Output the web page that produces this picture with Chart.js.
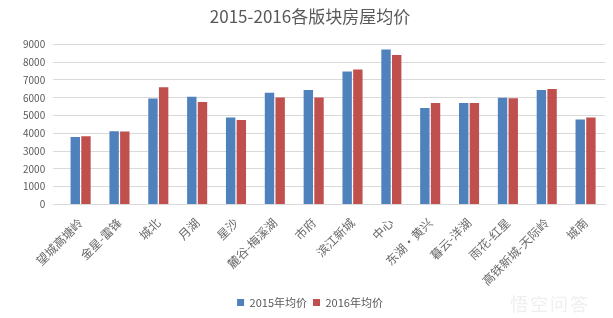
<!DOCTYPE html>
<html><head><meta charset="utf-8">
<script src="https://cdn.jsdelivr.net/npm/chart.js@4.4.0/dist/chart.umd.min.js"></script>
<style>
html,body{margin:0;padding:0;background:#fff;}
#wrap{position:relative;width:613px;height:318px;}
#wm{position:absolute;left:510px;top:290px;font:18px "Noto Sans CJK SC";color:#efefef;letter-spacing:2px;}
</style></head>
<body><div id="wrap"><canvas id="c" width="613" height="318"></canvas><div id="wm">悟空问答</div></div>
<script>
const categories = ["望城高塘岭","金星-雷锋","城北","月湖","星沙","麓谷-梅溪湖","市府","滨江新城","中心","东湖·黄兴","暮云-洋湖","雨花-红星","高铁新城-天际岭","城南"];
const price2015 = [3790,4110,5960,6060,4890,6280,6440,7480,8710,5430,5700,6000,6440,4780];
const price2016 = [3840,4100,6590,5760,4750,6020,6020,7590,8410,5700,5700,5970,6490,4890];
const yTicks = [0,1000,2000,3000,4000,5000,6000,7000,8000,9000];

new Chart(document.getElementById('c'), {
  type: 'bar',
  data: {
    labels: categories,
    datasets: [
      {label: '2015年均价', data: price2015, backgroundColor: '#4F81BD'},
      {label: '2016年均价', data: price2016, backgroundColor: '#C0504D'}
    ]
  },
  options: {
    responsive: false,
    animation: false,
    layout: {padding: {left: 15, right: 8, top: 0, bottom: 0}},
    datasets: {bar: {categoryPercentage: 0.55, barPercentage: 0.88}},
    plugins: {
      title: {display: true, text: '2015-2016各版块房屋均价', color: '#595959',
        font: {family: '"Noto Sans CJK SC"', size: 17, weight: 'normal'}, padding: {top: 6, bottom: 18}},
      legend: {position: 'bottom', labels: {boxWidth: 7, boxHeight: 7, color: '#595959',
        font: {family: '"Noto Sans CJK SC"', size: 11}, padding: 6}},
      tooltip: {enabled: false}
    },
    scales: {
      x: {
        grid: {display: false},
        border: {color: '#d9d9d9'},
        ticks: {minRotation: 45, maxRotation: 45, color: '#6a6a6a',
          font: {family: '"Noto Sans CJK SC"', size: 12}, padding: 3}
      },
      y: {
        min: 0, max: 9000,
        afterBuildTicks: (ax) => { ax.ticks = yTicks.map(v => ({value: v})); },
        grid: {color: '#d9d9d9'},
        border: {display: false},
        ticks: {color: '#595959', font: {family: '"Noto Sans CJK SC"', size: 10}, padding: 8,
          callback: (v) => String(v)}
      }
    }
  }
});
</script></body></html>
